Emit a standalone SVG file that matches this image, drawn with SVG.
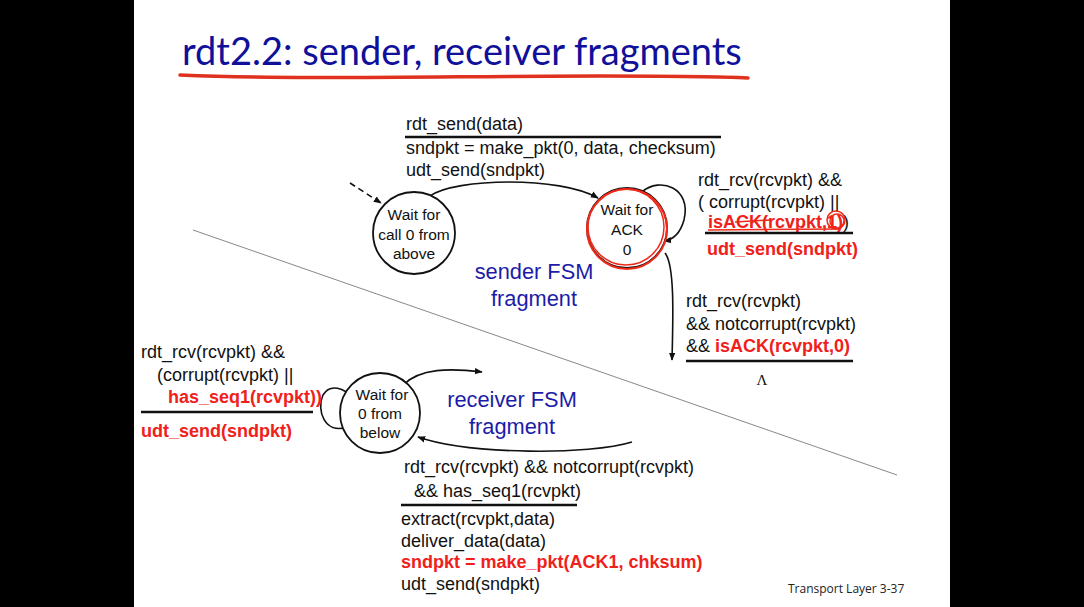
<svg xmlns="http://www.w3.org/2000/svg" width="1084" height="607" viewBox="0 0 1084 607">
<defs>
<style>
.t{font-family:"Liberation Sans",Arial,sans-serif;font-size:18px;fill:#111}
.r{fill:#f0201a;font-weight:bold}
.rb{font-size:18px}
.b{font-family:"Liberation Sans",Arial,sans-serif;font-size:21.8px;fill:#1c1ca8;text-anchor:middle}
.s{font-family:"Liberation Sans",Arial,sans-serif;font-size:15.5px;fill:#111;text-anchor:middle}
.st{fill:#fff;stroke:#111;stroke-width:1.8}
.e{fill:none;stroke:#111;stroke-width:1.6}
.u{stroke:#111;stroke-width:2.4}
</style>
<marker id="ah" viewBox="0 0 10 10" refX="9" refY="5" markerWidth="8" markerHeight="8" markerUnits="userSpaceOnUse" orient="auto">
<path d="M0,1 L10,5 L0,9 Z" fill="#111"/>
</marker>
</defs>
<rect x="0" y="0" width="1084" height="607" fill="#000"/>
<rect x="134" y="0" width="816" height="607" fill="#fff"/>
<text x="182" y="65" style="font-family:Lato,'Open Sans',sans-serif;font-size:38px;fill:#10109a">rdt2.2: sender, receiver fragments</text>
<path d="M180,75 C300,80 450,76 600,76 C680,76 730,77 748,78" fill="none" stroke="#e0301e" stroke-width="3.5" stroke-linecap="round"/>
<line x1="193" y1="230" x2="897" y2="475" stroke="#888" stroke-width="1"/>
<g id="connectors">
<path class="e" d="M350,183 L381,203" stroke-dasharray="6,4" marker-end="url(#ah)"/>
<path class="e" d="M430,196 C455,178 560,176 598,198" marker-end="url(#ah)"/>
<path class="e" d="M642,192 C660,176 692,188 684,220 C680,234 672,240 664,241" marker-end="url(#ah)"/>
<path class="e" d="M665,253 C675,265 673,320 672,360" marker-end="url(#ah)"/>
<path class="e" d="M347,427 C325,435 316,410 323,395 C330,383 345,388 352,398" marker-end="url(#ah)"/>
<path class="e" d="M403,385 C420,368 450,368 482,372" marker-end="url(#ah)"/>
<path class="e" d="M632,442 C590,455 470,455 418,437" marker-end="url(#ah)"/>
</g>
<g id="s_call0">
<circle class="st" cx="414" cy="233" r="41"/>
<text class="s" x="414" y="220">Wait for</text>
<text class="s" x="414" y="240">call 0 from</text>
<text class="s" x="414" y="259">above</text>
</g>
<g id="s_ack0">
<circle class="st" cx="627" cy="228" r="40"/>
<circle cx="627" cy="229" r="40" fill="none" stroke="#ee2a1a" stroke-width="2"/>
<circle cx="626" cy="227" r="38" fill="none" stroke="#ee2a1a" stroke-width="1.5"/>
<text class="s" x="627" y="215">Wait for</text>
<text class="s" x="627" y="235">ACK</text>
<text class="s" x="627" y="255">0</text>
</g>
<g id="s_below0">
<circle class="st" cx="380" cy="413" r="40"/>
<text class="s" x="382" y="400">Wait for</text>
<text class="s" x="380" y="419">0 from</text>
<text class="s" x="380" y="438">below</text>
</g>
<g id="label_send">
<text class="t" x="406" y="130">rdt_send(data)</text>
<line class="u" x1="405" y1="137" x2="721" y2="137"/>
<text class="t" x="406" y="154">sndpkt = make_pkt(0, data, checksum)</text>
<text class="t" x="406" y="176">udt_send(sndpkt)</text>
</g>
<g id="label_ack_self">
<text class="t" x="698" y="186">rdt_rcv(rcvpkt) &amp;&amp;</text>
<text class="t" x="698" y="208">( corrupt(rcvpkt) ||</text>
<text class="t" x="708" y="228"><tspan class="r rb">isACK(rcvpkt,1)</tspan>)</text>
<line class="u" x1="705" y1="233" x2="853" y2="233"/>
<path d="M708,230 L840,229" stroke="#ee2a1a" stroke-width="1.5" fill="none"/>
<path d="M735,222 L770,220" stroke="#ee2a1a" stroke-width="1.5" fill="none"/>
<circle cx="836" cy="220" r="9" fill="none" stroke="#ee2a1a" stroke-width="1.5"/>
<circle cx="837" cy="221" r="7" fill="none" stroke="#ee2a1a" stroke-width="1.5"/>
<text class="t r rb" x="707" y="255">udt_send(sndpkt)</text>
</g>
<g id="label_ack_ok">
<text class="t" x="686" y="307">rdt_rcv(rcvpkt)</text>
<text class="t" x="686" y="330">&amp;&amp; notcorrupt(rcvpkt)</text>
<text class="t" x="686" y="352">&amp;&amp; <tspan class="r rb">isACK(rcvpkt,0)</tspan></text>
<line class="u" x1="686" y1="361" x2="853" y2="361"/>
<text x="762" y="385" style="font-family:'Liberation Serif',serif;font-size:15px;fill:#111;text-anchor:middle">Λ</text>
</g>
<g id="label_rcv_self">
<text class="t" x="141" y="358">rdt_rcv(rcvpkt) &amp;&amp;</text>
<text class="t" x="157" y="381">(corrupt(rcvpkt) ||</text>
<text class="t r rb" x="168" y="403">has_seq1(rcvpkt))</text>
<line class="u" x1="141" y1="412" x2="313" y2="412"/>
<text class="t r rb" x="141" y="437">udt_send(sndpkt)</text>
</g>
<g id="label_rcv_ok">
<text class="t" x="404" y="473">rdt_rcv(rcvpkt) &amp;&amp; notcorrupt(rcvpkt)</text>
<text class="t" x="414" y="497">&amp;&amp; has_seq1(rcvpkt)</text>
<line class="u" x1="401" y1="505" x2="577" y2="505"/>
<text class="t" x="401" y="525">extract(rcvpkt,data)</text>
<text class="t" x="401" y="547">deliver_data(data)</text>
<text class="t r rb" x="401" y="568">sndpkt = make_pkt(ACK1, chksum)</text>
<text class="t" x="401" y="590">udt_send(sndpkt)</text>
</g>
<g id="fsm_labels">
<text class="b" x="534" y="279">sender FSM</text>
<text class="b" x="534" y="306">fragment</text>
<text class="b" x="512" y="407">receiver FSM</text>
<text class="b" x="512" y="434">fragment</text>
</g>
<text x="788" y="593" style="font-family:'Open Sans',sans-serif;font-size:12px;fill:#222">Transport Layer 3-37</text>
</svg>
